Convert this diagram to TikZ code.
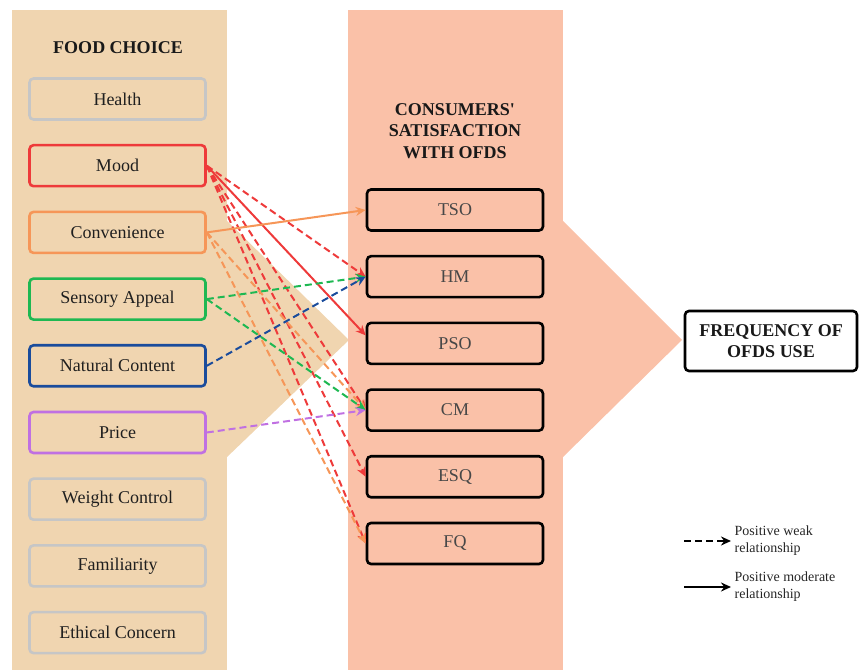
\documentclass[tikz,border=0pt]{standalone}
\usepackage{fontspec}
\setmainfont{Liberation Serif}
\usetikzlibrary{arrows.meta,positioning}

\definecolor{tanbg}{RGB}{240,213,176}
\definecolor{salmonbg}{RGB}{250,193,168}
\definecolor{greyc}{RGB}{198,198,198}
\definecolor{moodc}{RGB}{238,58,58}
\definecolor{convc}{RGB}{246,150,88}
\definecolor{sensc}{RGB}{30,184,82}
\definecolor{natc}{RGB}{26,76,156}
\definecolor{pricec}{RGB}{192,112,226}

\tikzstyle{every node}+=[inner sep=0.5mm]
\tikzstyle{factor}=[rectangle, rounded corners=4pt, draw, line width=2.6pt, minimum width=176pt, minimum height=41pt, font=\fontsize{18}{21}\selectfont, text=black!88]
\tikzstyle{sat}=[factor, draw=black, text=black!72]
\tikzstyle{heading}=[align=center, font=\fontsize{18}{21.5}\selectfont\bfseries, text=black!90]
\tikzstyle{rel}=[-{Stealth[length=10pt,width=9pt]}, line width=2pt]
\tikzstyle{weak}=[rel, dash pattern=on 7pt off 4pt]

\begin{document}
\begin{tikzpicture}[x=1pt, y=1pt, node distance=66.7pt]

\useasboundingbox (0,0) rectangle (860,670);

% panels
\fill[tanbg] (12,0) rectangle (227,660);
\fill[tanbg] (226,450) -- (349,330) -- (226,212) -- cycle;
\fill[salmonbg] (348,0) rectangle (563,660);
\fill[salmonbg] (562,450) -- (682,330) -- (562,212) -- cycle;

% food choice
\node[heading] (fc) at (118,622) {FOOD CHOICE};
\node[factor, draw=greyc] (health) at (117.5,571) {Health};
\node[factor, draw=moodc, below of=health] (mood) {Mood};
\node[factor, draw=convc, below of=mood] (conv) {Convenience};
\node[factor, draw=sensc, below of=conv] (sens) {Sensory Appeal};
\node[factor, draw=natc, below of=sens] (nat) {Natural Content};
\node[factor, draw=pricec, below of=nat] (price) {Price};
\node[factor, draw=greyc, below of=price] (weight) {Weight Control};
\node[factor, draw=greyc, below of=weight] (fam) {Familiarity};
\node[factor, draw=greyc, below of=fam] (eth) {Ethical Concern};

% satisfaction
\node[heading] (cs) at (455,539) {CONSUMERS\textquotesingle\\SATISFACTION\\WITH OFDS};
\node[sat] (tso) at (455,460) {TSO};
\node[sat, below of=tso] (hm) {HM};
\node[sat, below of=hm] (pso) {PSO};
\node[sat, below of=pso] (cm) {CM};
\node[sat, below of=cm] (esq) {ESQ};
\node[sat, below of=esq] (fq) {FQ};

\node[rectangle, rounded corners=4pt, draw, fill=white, line width=2.6pt, minimum width=172pt, minimum height=60pt, heading] (freq) at (771,329) {FREQUENCY OF\\OFDS USE};

% relationships
\draw[weak, color=moodc] (mood.east) -- (hm.west);
\draw[rel, color=moodc] (mood.east) -- ([yshift=8pt]pso.west);
\draw[weak, color=moodc] (mood.east) -- (cm.west);
\draw[weak, color=moodc] (mood.east) -- (esq.west);
\draw[weak, color=moodc] (mood.east) -- (fq.west);
\draw[rel, color=convc] (conv.east) -- (tso.west);
\draw[weak, color=convc] (conv.east) -- (cm.west);
\draw[weak, color=convc] (conv.east) -- (fq.west);
\draw[weak, color=sensc] (sens.east) -- (hm.west);
\draw[weak, color=sensc] (sens.east) -- (cm.west);
\draw[weak, color=natc] (nat.east) -- (hm.west);
\draw[weak, color=pricec] (price.east) -- (cm.west);

% legend
\coordinate (w0) at (684,129);
\coordinate (w1) at (731,129);
\coordinate (m0) at (684,83);
\coordinate (m1) at (731,83);
\draw[weak, line width=2.2pt] (w0) -- (w1);
\draw[rel, line width=2.2pt] (m0) -- (m1);
\node[right=2pt of w1, align=left, font=\fontsize{14}{17}\selectfont, text=black!85] (lw) {Positive weak\\relationship};
\node[right=2pt of m1, align=left, font=\fontsize{14}{17}\selectfont, text=black!85] (lm) {Positive moderate\\relationship};

\end{tikzpicture}
\end{document}
